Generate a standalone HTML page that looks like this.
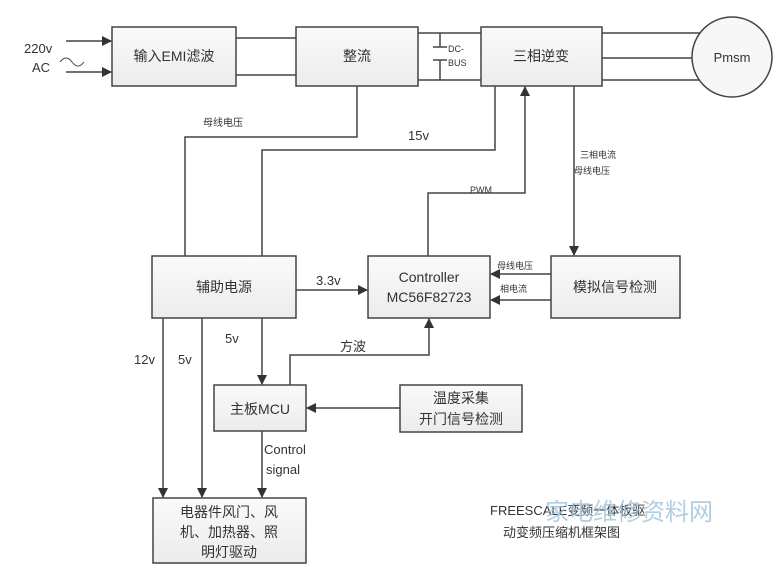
<!DOCTYPE html>
<html><head><meta charset="utf-8"><style>
body{margin:0;background:#fff;}
svg{display:block;font-family:"Liberation Sans","Noto Sans CJK SC",sans-serif;}
</style></head><body>
<svg width="781" height="569" viewBox="0 0 781 569" xmlns="http://www.w3.org/2000/svg">
<defs>
<linearGradient id="g" x1="0" y1="0" x2="0" y2="1"><stop offset="0" stop-color="#fafafa"/><stop offset="1" stop-color="#ececec"/></linearGradient>
<marker id="a" markerWidth="10" markerHeight="10" refX="9" refY="5" orient="auto" markerUnits="userSpaceOnUse"><path d="M0,0 L10,5 L0,10 Z" fill="#333"/></marker>
</defs>
<g stroke="#444" stroke-width="1.5" fill="url(#g)">
<rect x="112" y="27" width="124" height="59"/>
<rect x="296" y="27" width="122" height="59"/>
<rect x="481" y="27" width="121" height="59"/>
<circle cx="732" cy="57" r="40" fill="#f7f7f7"/>
<rect x="152" y="256" width="144" height="62"/>
<rect x="368" y="256" width="122" height="62"/>
<rect x="551" y="256" width="129" height="62"/>
<rect x="214" y="385" width="92" height="46"/>
<rect x="400" y="385" width="122" height="47"/>
<rect x="153" y="498" width="153" height="65"/>
</g>
<g stroke="#444" stroke-width="1.5" fill="none">
<line x1="66" y1="41" x2="111" y2="41" marker-end="url(#a)"/>
<line x1="66" y1="72" x2="111" y2="72" marker-end="url(#a)"/>
<path d="M60,62 q6,-8 12,0 t12,0" stroke-width="1"/>
<line x1="236" y1="38" x2="296" y2="38"/><line x1="236" y1="75" x2="296" y2="75"/>
<line x1="418" y1="33" x2="481" y2="33"/><line x1="418" y1="80" x2="481" y2="80"/>
<line x1="440" y1="33" x2="440" y2="47"/><line x1="433" y1="47" x2="447" y2="47"/>
<line x1="433" y1="60" x2="447" y2="60"/><line x1="440" y1="60" x2="440" y2="80"/>
<line x1="602" y1="33" x2="700" y2="33"/><line x1="602" y1="58" x2="692" y2="58"/><line x1="602" y1="80" x2="700" y2="80"/>
<polyline points="357,86 357,137 185,137 185,256"/>
<polyline points="495,86 495,150 262,150 262,256"/>
<polyline points="428,256 428,193 525,193 525,87" marker-end="url(#a)"/>
<line x1="574" y1="86" x2="574" y2="255" marker-end="url(#a)"/>
<line x1="296" y1="290" x2="367" y2="290" marker-end="url(#a)"/>
<line x1="551" y1="274" x2="491" y2="274" marker-end="url(#a)"/>
<line x1="551" y1="300" x2="491" y2="300" marker-end="url(#a)"/>
<line x1="163" y1="318" x2="163" y2="497" marker-end="url(#a)"/>
<line x1="202" y1="318" x2="202" y2="497" marker-end="url(#a)"/>
<line x1="262" y1="318" x2="262" y2="384" marker-end="url(#a)"/>
<polyline points="290,385 290,355 429,355 429,319" marker-end="url(#a)"/>
<line x1="400" y1="408" x2="307" y2="408" marker-end="url(#a)"/>
<line x1="262" y1="431" x2="262" y2="497" marker-end="url(#a)"/>
</g>
<g fill="#333" font-size="14">
<text x="24" y="53" font-size="13">220v</text>
<text x="32" y="72" font-size="13">AC</text>
<text x="174" y="61" text-anchor="middle">输入EMI滤波</text>
<text x="357" y="61" text-anchor="middle">整流</text>
<text x="541" y="61" text-anchor="middle">三相逆变</text>
<text x="732" y="62" text-anchor="middle" font-size="13">Pmsm</text>
<text x="448" y="52" font-size="9">DC-</text>
<text x="448" y="66" font-size="9">BUS</text>
<text x="203" y="126" font-size="10">母线电压</text>
<text x="408" y="140" font-size="13">15v</text>
<text x="580" y="158" font-size="9">三相电流</text>
<text x="574" y="174" font-size="9">母线电压</text>
<text x="470" y="193" font-size="9">PWM</text>
<text x="224" y="292" text-anchor="middle">辅助电源</text>
<text x="316" y="285" font-size="13">3.3v</text>
<text x="429" y="282" text-anchor="middle" font-size="14">Controller</text>
<text x="429" y="302" text-anchor="middle" font-size="14">MC56F82723</text>
<text x="497" y="269" font-size="9">母线电压</text>
<text x="500" y="292" font-size="9">相电流</text>
<text x="615" y="292" text-anchor="middle">模拟信号检测</text>
<text x="225" y="343" font-size="13">5v</text>
<text x="134" y="364" font-size="13">12v</text>
<text x="178" y="364" font-size="13">5v</text>
<text x="340" y="351" font-size="13">方波</text>
<text x="260" y="414" text-anchor="middle">主板MCU</text>
<text x="461" y="403" text-anchor="middle">温度采集</text>
<text x="461" y="424" text-anchor="middle">开门信号检测</text>
<text x="264" y="454" font-size="13">Control</text>
<text x="266" y="474" font-size="13">signal</text>
<text x="229" y="517" text-anchor="middle">电器件风门、风</text>
<text x="229" y="537" text-anchor="middle">机、加热器、照</text>
<text x="229" y="557" text-anchor="middle">明灯驱动</text>
<text x="490" y="515" font-size="13">FREESCALE变频一体板驱</text>
<text x="503" y="537" font-size="13">动变频压缩机框架图</text>
<text x="545" y="520" font-size="24" fill="#9fc3d8" opacity="0.8">家电维修资料网</text>
</g>
</svg>
</body></html>
